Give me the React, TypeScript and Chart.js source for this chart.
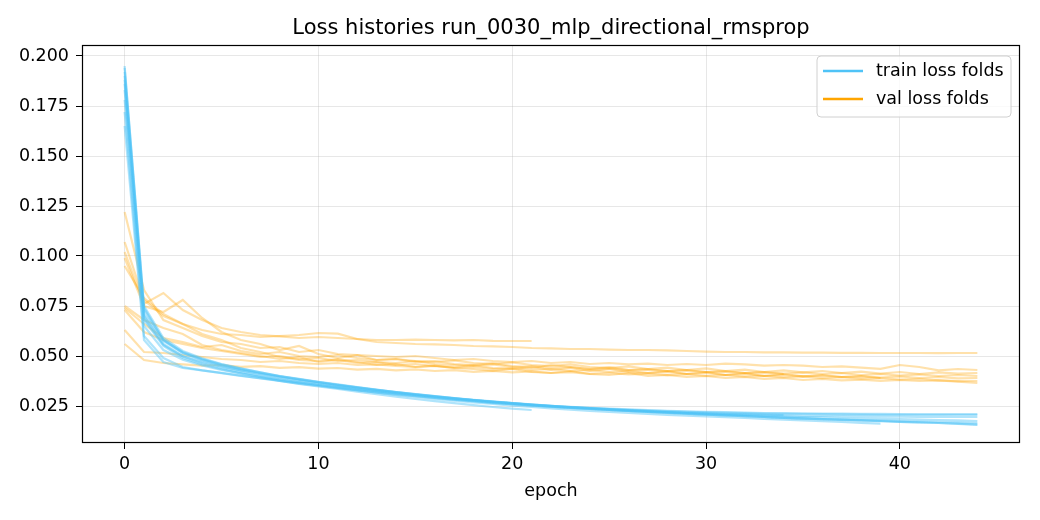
import { useEffect, useRef } from "react";
import { Chart, registerables } from "chart.js";

Chart.register(...registerables);

const TITLE = "Loss histories run_0030_mlp_directional_rmsprop";
const X_LABEL = "epoch";
const X_TICKS = [0, 10, 20, 30, 40];
const Y_TICKS = [0.025, 0.05, 0.075, 0.1, 0.125, 0.15, 0.175, 0.2];
const LEGEND_LABELS = ["train loss folds", "val loss folds"];

const TRAIN_COLOR = "#4fc3f7";
const VAL_COLOR = "#ffa500";

// train loss per fold (index = epoch)
const trainFold1 = [
  0.195, 0.074, 0.058, 0.052, 0.0485, 0.0458, 0.0437, 0.0418, 0.04, 0.0386,
  0.0371, 0.0358, 0.0345, 0.0332, 0.032, 0.0309, 0.0299, 0.029, 0.0281, 0.0273,
  0.0265, 0.0258, 0.0251, 0.0245, 0.024, 0.0234, 0.0229, 0.0224, 0.0219, 0.0214,
  0.0209, 0.0205, 0.02, 0.0196, 0.0192, 0.0188, 0.0184, 0.0181, 0.0178, 0.0175,
  0.0171, 0.0168, 0.0165, 0.0161, 0.0155,
];
const trainFold2 = [
  0.19, 0.071, 0.0575, 0.0515, 0.0482, 0.0455, 0.0433, 0.0415, 0.0398, 0.0383,
  0.0369, 0.0356, 0.0343, 0.0331, 0.0319, 0.0308, 0.0298, 0.0288, 0.0279, 0.0271,
  0.0263, 0.0256, 0.0249, 0.0243, 0.0238, 0.0233, 0.0227, 0.0222, 0.0217, 0.0212,
  0.0207, 0.0203, 0.0199, 0.0195, 0.0191, 0.0187, 0.0184, 0.0181, 0.0178, 0.0174,
  0.0171, 0.0168, 0.0165, 0.0162, 0.0158,
];
const trainFold3 = [
  0.183, 0.068, 0.055, 0.049, 0.0458, 0.0434, 0.0413, 0.0394, 0.0376, 0.036,
  0.0348, 0.0335, 0.0322, 0.0309, 0.0297, 0.0285, 0.0274, 0.0264, 0.0254, 0.0245,
  0.0237, 0.023,
];
const trainFold4 = [
  0.172, 0.06, 0.049, 0.0445, 0.0428, 0.0414, 0.0401, 0.0389, 0.0377, 0.0366,
  0.0355, 0.0344, 0.0334, 0.0324, 0.0314, 0.0305, 0.0296, 0.0287, 0.0279, 0.0271,
  0.0264, 0.0257, 0.0251, 0.0246, 0.0241, 0.0237, 0.0233, 0.0229, 0.0226, 0.0223,
  0.0221, 0.0219, 0.0217, 0.0215, 0.0214, 0.0213, 0.0212, 0.0212, 0.0211, 0.0211,
  0.021, 0.021, 0.021, 0.021, 0.021,
];
const trainFold5 = [
  0.165, 0.058, 0.047, 0.044, 0.0428, 0.0416, 0.0402, 0.0388, 0.0375, 0.0362,
  0.035, 0.0339, 0.0328, 0.0318, 0.0308, 0.0299, 0.029, 0.0282, 0.0274, 0.0266,
  0.0259, 0.0253, 0.0247, 0.0241, 0.0236, 0.0231, 0.0226, 0.0222, 0.0218, 0.0214,
  0.021, 0.0207, 0.0204, 0.0201, 0.0198, 0.0195, 0.0193, 0.019, 0.0188, 0.0186,
  0.0184, 0.0182, 0.018, 0.0178, 0.0175,
];
const trainFold6 = [
  0.188, 0.07, 0.056, 0.05, 0.047, 0.0447, 0.0428, 0.0411, 0.0395, 0.038,
  0.0366, 0.0353, 0.0341, 0.0329, 0.0318, 0.0307, 0.0297, 0.0288, 0.0279, 0.0271,
  0.0264, 0.0257, 0.0251, 0.0245, 0.024, 0.0235, 0.0231, 0.0227, 0.0224, 0.0221,
  0.0218, 0.0216, 0.0214, 0.0212, 0.0211, 0.021, 0.0209, 0.0208, 0.0207, 0.0206,
  0.0206, 0.0205, 0.0205, 0.0205, 0.0205,
];
const trainFold7 = [
  0.192, 0.073, 0.058, 0.0515, 0.0478, 0.045, 0.0428, 0.0409, 0.0392, 0.0377,
  0.0363, 0.035, 0.0338, 0.0326, 0.0315, 0.0305, 0.0295, 0.0286, 0.0277, 0.0269,
  0.0261, 0.0254, 0.0248, 0.0242, 0.0237, 0.0232, 0.0228, 0.0224, 0.022, 0.0217,
  0.0214, 0.0211, 0.0209, 0.0207, 0.0205,
];
const trainFold8 = [
  0.186, 0.069, 0.0555, 0.0498, 0.0465, 0.044, 0.0419, 0.04, 0.0383, 0.0368,
  0.0354, 0.0341, 0.0329, 0.0317, 0.0306, 0.0296, 0.0286, 0.0277, 0.0268, 0.026,
  0.0252, 0.0245, 0.0238, 0.0232, 0.0226, 0.0221, 0.0216, 0.0211, 0.0206, 0.0202,
  0.0198, 0.0194, 0.019, 0.0186, 0.0182, 0.0178, 0.0174, 0.017, 0.0166, 0.0162,
];
const trainFold9 = [
  0.178, 0.065, 0.053, 0.0482, 0.0453, 0.0431, 0.0413, 0.0397, 0.0382, 0.0368,
  0.0355, 0.0343, 0.0331, 0.032, 0.031, 0.03, 0.0291, 0.0282, 0.0274, 0.0266,
  0.0259, 0.0252, 0.0246, 0.024, 0.0235, 0.023, 0.0225, 0.0221, 0.0217, 0.0214,
  0.0211, 0.0208, 0.0206, 0.0204, 0.0202, 0.0201, 0.02, 0.0199, 0.0198, 0.0197,
  0.0197, 0.0196, 0.0196, 0.0195, 0.0195,
];
const trainFold10 = [
  0.194, 0.075, 0.059, 0.0525, 0.0488, 0.046, 0.0438, 0.0418, 0.04, 0.0384,
  0.0369, 0.0356, 0.0343, 0.0331, 0.032, 0.0309, 0.0299, 0.0289, 0.028, 0.0272,
  0.0264, 0.0256, 0.0249, 0.0243, 0.0237, 0.0231, 0.0226, 0.0221, 0.0216, 0.0211,
  0.0207, 0.0203, 0.0199, 0.0195, 0.0191, 0.0188, 0.0185, 0.0182, 0.0179, 0.0177,
  0.0174, 0.0172, 0.017, 0.0168, 0.0165,
];

// validation loss per fold
const valFold1 = [
  0.122, 0.083, 0.068, 0.064, 0.06, 0.057, 0.056, 0.054, 0.0545, 0.052,
  0.053, 0.051, 0.0505, 0.05, 0.0495, 0.05, 0.049, 0.048, 0.0485, 0.0475,
  0.047, 0.0475, 0.0465, 0.047, 0.046, 0.0465, 0.0458, 0.0462, 0.0455, 0.046,
  0.0455, 0.0462, 0.0458, 0.0452, 0.0455, 0.0452, 0.0445, 0.0448, 0.0442, 0.0436,
  0.0455, 0.0445, 0.0428, 0.0435, 0.043,
];
const valFold2 = [
  0.107, 0.078, 0.07, 0.066, 0.063, 0.061, 0.0605, 0.0595, 0.06, 0.0605,
  0.0615, 0.0612, 0.0585, 0.057, 0.0565, 0.056, 0.0558, 0.0555, 0.055, 0.0548,
  0.0545, 0.054, 0.0538, 0.0535, 0.0535, 0.0532, 0.053, 0.053, 0.0528, 0.0525,
  0.0522, 0.052, 0.052, 0.0518, 0.0518, 0.0517, 0.0517, 0.0516, 0.0516, 0.0515,
  0.0515, 0.0515, 0.0514, 0.0515, 0.0515,
];
const valFold3 = [
  0.102, 0.076, 0.0815, 0.073, 0.068, 0.064, 0.062, 0.0605, 0.0598, 0.059,
  0.0595, 0.059, 0.0585, 0.058, 0.058, 0.0582, 0.058, 0.0578, 0.058, 0.0576,
  0.0575, 0.0575,
];
const valFold4 = [
  0.099, 0.075, 0.072, 0.078, 0.069, 0.062, 0.058, 0.056, 0.053, 0.055,
  0.051, 0.049, 0.0505, 0.048, 0.0485, 0.047, 0.0475, 0.046, 0.0455, 0.0465,
  0.045, 0.044, 0.0455, 0.0445, 0.0435, 0.0445, 0.043, 0.0435, 0.0425, 0.043,
  0.042, 0.0425, 0.0415, 0.042, 0.0412, 0.0418, 0.041, 0.0415, 0.0405, 0.041,
  0.0402, 0.0408, 0.04, 0.0405, 0.04,
];
const valFold5 = [
  0.095, 0.079, 0.071, 0.066, 0.061, 0.058, 0.054, 0.052, 0.0495, 0.048,
  0.0475, 0.0485, 0.047, 0.0455, 0.046, 0.0445, 0.045, 0.044, 0.0435, 0.0425,
  0.0435, 0.042, 0.0415, 0.0425, 0.041, 0.0405, 0.0415, 0.04, 0.0405, 0.0395,
  0.04, 0.039, 0.0395, 0.0385, 0.039, 0.038, 0.0385, 0.0378, 0.0382, 0.0376,
  0.038, 0.0375, 0.0378, 0.0374, 0.0375,
];
const valFold6 = [
  0.075, 0.068, 0.064, 0.061, 0.0555, 0.053, 0.0515, 0.05, 0.0485, 0.0495,
  0.047, 0.048, 0.0465, 0.047, 0.0455, 0.046, 0.045, 0.0445, 0.0455, 0.044,
  0.0435, 0.0445, 0.043, 0.044, 0.0425, 0.0435, 0.042, 0.0415, 0.0425, 0.041,
  0.042, 0.0405, 0.0415, 0.04, 0.041, 0.0398, 0.0405, 0.0395, 0.04, 0.0392,
  0.0398, 0.039, 0.0395, 0.0388, 0.039,
];
const valFold7 = [
  0.073, 0.062, 0.058, 0.056, 0.054, 0.0525, 0.051, 0.0495, 0.05, 0.0485,
  0.049, 0.0475, 0.048, 0.047, 0.0465, 0.0475, 0.046, 0.0455, 0.045, 0.0458,
  0.0445, 0.045, 0.044, 0.0445, 0.0435, 0.0438, 0.043, 0.0432, 0.0425, 0.0428,
  0.042, 0.0422, 0.0415, 0.0418, 0.041,
];
const valFold8 = [
  0.063, 0.052, 0.0515, 0.0505, 0.0495, 0.0485, 0.048, 0.047, 0.0475, 0.0465,
  0.046, 0.0465, 0.0455, 0.0458, 0.045, 0.0445, 0.0452, 0.044, 0.0445, 0.0435,
  0.044, 0.043, 0.0435, 0.0425, 0.043, 0.042, 0.0425, 0.0415, 0.042, 0.041,
  0.0415, 0.0405, 0.041, 0.04, 0.0405, 0.0398, 0.0402, 0.0395, 0.0398, 0.039,
];
const valFold9 = [
  0.056, 0.048, 0.0465, 0.0458, 0.0452, 0.0455, 0.0446, 0.0449, 0.0441, 0.0444,
  0.0437, 0.044, 0.0432, 0.0436, 0.0428, 0.0433, 0.0425, 0.0429, 0.0421, 0.0426,
  0.0418, 0.0423, 0.0415, 0.0419, 0.0411, 0.0416, 0.0408, 0.0412, 0.0404, 0.0409,
  0.04, 0.0405, 0.0397, 0.0401, 0.0393, 0.0398, 0.0389, 0.0394, 0.0386, 0.039,
  0.0382, 0.0386, 0.0378, 0.0372, 0.0365,
];
const valFold10 = [
  0.074, 0.066, 0.059, 0.057, 0.0545, 0.0555, 0.0525, 0.051, 0.052, 0.05,
  0.0495, 0.0505, 0.049, 0.048, 0.0485, 0.0475, 0.047, 0.0478, 0.0465, 0.046,
  0.0468, 0.0455, 0.045, 0.0458, 0.0445, 0.044, 0.0448, 0.0435, 0.0442, 0.043,
  0.0438, 0.0425, 0.0432, 0.042, 0.0428, 0.0418, 0.0425, 0.0415, 0.0422, 0.0412,
  0.042, 0.041, 0.0418, 0.0412, 0.0415,
];

const trainFolds = [
  trainFold1, trainFold2, trainFold3, trainFold4, trainFold5,
  trainFold6, trainFold7, trainFold8, trainFold9, trainFold10,
];
const valFolds = [
  valFold1, valFold2, valFold3, valFold4, valFold5,
  valFold6, valFold7, valFold8, valFold9, valFold10,
];

const FONT = "'DejaVu Sans', sans-serif";
const TEXT_SIZE = 17.5;

function rgba(hex: string, a: number): string {
  const n = parseInt(hex.slice(1), 16);
  return `rgba(${(n >> 16) & 255},${(n >> 8) & 255},${n & 255},${a})`;
}

// frame, title and matplotlib-like legend
const decorPlugin = {
  id: "decor",
  afterDraw(chart: Chart) {
    const { ctx, chartArea: a } = chart;
    ctx.save();
    ctx.strokeStyle = "#000";
    ctx.lineWidth = 1.2;
    ctx.strokeRect(a.left + 0.5, a.top + 0.5, a.right - a.left - 1, a.bottom - a.top - 1);

    ctx.fillStyle = "#000";
    ctx.font = `21px ${FONT}`;
    ctx.textAlign = "center";
    ctx.textBaseline = "middle";
    ctx.fillText(TITLE, (a.left + a.right) / 2, 29);

    // legend box
    const bx = a.right - 203, by = a.top + 11, bw = 194, bh = 61, r = 4;
    ctx.beginPath();
    ctx.moveTo(bx + r, by);
    ctx.arcTo(bx + bw, by, bx + bw, by + bh, r);
    ctx.arcTo(bx + bw, by + bh, bx, by + bh, r);
    ctx.arcTo(bx, by + bh, bx, by, r);
    ctx.arcTo(bx, by, bx + bw, by, r);
    ctx.closePath();
    ctx.fillStyle = "rgba(255,255,255,0.8)";
    ctx.fill();
    ctx.strokeStyle = "#d0d0d0";
    ctx.lineWidth = 1;
    ctx.stroke();

    const colors = [TRAIN_COLOR, VAL_COLOR];
    LEGEND_LABELS.forEach((label, i) => {
      const y = by + 15 + i * 28;
      ctx.strokeStyle = colors[i];
      ctx.lineWidth = 2.6;
      ctx.beginPath();
      ctx.moveTo(bx + 6, y);
      ctx.lineTo(bx + 46, y);
      ctx.stroke();
      ctx.fillStyle = "#000";
      ctx.font = `${TEXT_SIZE}px ${FONT}`;
      ctx.textAlign = "left";
      ctx.fillText(label, bx + 59, y);
    });
    ctx.restore();
  },
};

export default function App() {
  const canvasRef = useRef<HTMLCanvasElement>(null);

  useEffect(() => {
    if (!canvasRef.current) return;

    const toPoints = (arr: number[]) => arr.map((y, x) => ({ x, y }));
    const trainSets = trainFolds.map((f, i) => ({
      label: `train fold ${i + 1}`,
      data: toPoints(f),
      borderColor: rgba(TRAIN_COLOR, 0.45),
      borderWidth: 2.2,
      pointRadius: 0,
      tension: 0,
    }));
    const valSets = valFolds.map((f, i) => ({
      label: `val fold ${i + 1}`,
      data: toPoints(f),
      borderColor: rgba(VAL_COLOR, 0.33),
      borderWidth: 2.2,
      pointRadius: 0,
      tension: 0,
    }));

    const tickFont = { family: FONT, size: TEXT_SIZE };

    const chart = new Chart(canvasRef.current, {
      type: "line",
      data: { datasets: [...trainSets, ...valSets] },
      plugins: [decorPlugin],
      options: {
        animation: false,
        responsive: false,
        devicePixelRatio: 1,
        layout: { padding: { top: 45, right: 20, left: 0, bottom: 0 } },
        plugins: {
          legend: { display: false },
          tooltip: { enabled: false },
          title: { display: false },
        },
        scales: {
          x: {
            type: "linear",
            min: -2.2,
            max: 46.2,
            afterBuildTicks: (scale: any) => {
              scale.ticks = X_TICKS.map((value) => ({ value }));
            },
            afterFit: (scale: any) => {
              scale.height = 77;
            },
            grid: {
              color: "rgba(176,176,176,0.3)",
              tickColor: "#000",
              tickLength: 6,
            },
            border: { display: false },
            ticks: { font: tickFont, color: "#000", padding: 5, maxRotation: 0 },
            title: {
              display: true,
              text: X_LABEL,
              font: { family: FONT, size: TEXT_SIZE },
              color: "#000",
              padding: { top: 0, bottom: 18 },
            },
          },
          y: {
            type: "linear",
            min: 0.0065,
            max: 0.2055,
            afterBuildTicks: (scale: any) => {
              scale.ticks = Y_TICKS.map((value) => ({ value }));
            },
            afterFit: (scale: any) => {
              scale.width = 82;
            },
            grid: {
              color: "rgba(176,176,176,0.3)",
              tickColor: "#000",
              tickLength: 6,
            },
            border: { display: false },
            ticks: {
              font: tickFont,
              color: "#000",
              padding: 7,
              callback: (v: string | number) => Number(v).toFixed(3),
            },
          },
        },
      },
    });

    return () => chart.destroy();
  }, []);

  return (
    <div style={{ position: "fixed", left: 0, top: 0, width: 1040, height: 520, background: "#fff" }}>
      <canvas ref={canvasRef} width={1040} height={520} />
    </div>
  );
}
